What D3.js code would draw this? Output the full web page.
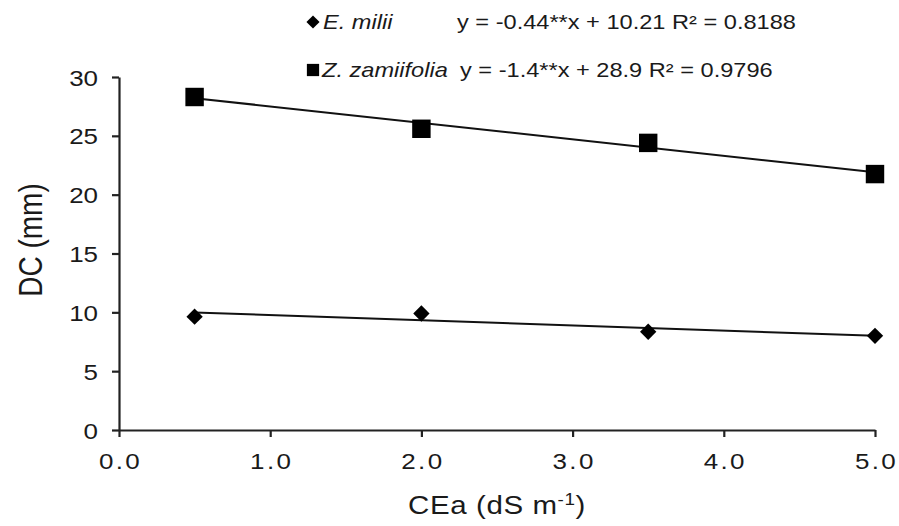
<!DOCTYPE html>
<html>
<head>
<meta charset="utf-8">
<script src="https://cdn.jsdelivr.net/npm/d3@7"></script>
<style>
  body { margin: 0; background: #fff; }
  svg text { font-family: "Liberation Sans", Arial, sans-serif; fill: #1a1a1a; }
</style>
</head>
<body>
<svg id="chart" width="899" height="526"></svg>
<script>
// Salinity levels (CEa, dS m-1)
const cea = [0.5, 2.0, 3.5, 5.0];
// Stem diameter DC (mm) per species
const eMilii = [9.63, 9.9, 8.35, 8.0];
const zZamiifolia = [28.3, 25.6, 24.4, 21.75];
// Linear fits: [slope, intercept]
const fitE = [-0.44, 10.21];
const fitZ = [-1.4, 28.9];
const xTicks = [0, 1, 2, 3, 4, 5];
const yTicks = [0, 5, 10, 15, 20, 25, 30];
const legendNames = ["E. milii", "Z. zamiifolia"];
const legendEqs = ["y = -0.44**x + 10.21 R² = 0.8188", "y = -1.4**x + 28.9 R² = 0.9796"];

const SX = 1.18; // horizontal widening of the lettering
const svg = d3.select("#chart");
const x = d3.scaleLinear().domain([0, 5]).range([119, 875]);
const y = d3.scaleLinear().domain([0, 30]).range([430, 77]);

// Places a horizontally widened text at (px, py)
function label(px, py, size, str, opts = {}) {
  const g = svg.append("g").attr("transform", `translate(${px},${py}) scale(${SX},1)`);
  const t = g.append("text").attr("font-size", size)
    .attr("text-anchor", opts.anchor || "start")
    .attr("font-style", opts.italic ? "italic" : null);
  if (opts.html) t.html(str); else t.text(str);
  return t;
}

// Axes
const xAxis = svg.append("g").attr("transform", `translate(0,${y(0)})`)
  .call(d3.axisBottom(x).tickValues(xTicks).tickFormat(d3.format(".1f")).tickSize(7).tickSizeOuter(0));
const yAxis = svg.append("g").attr("transform", `translate(${x(0)},0)`)
  .call(d3.axisLeft(y).tickValues(yTicks).tickSize(7).tickSizeOuter(0));
[xAxis, yAxis].forEach(g => {
  g.selectAll("path, line").attr("stroke", "#222").attr("stroke-width", 2.2);
  g.selectAll("text").attr("font-size", 22).attr("fill", "#1a1a1a");
});
xAxis.selectAll("text").attr("y", 0).attr("dy", 0)
  .attr("transform", `translate(1,39) scale(${SX},1)`).attr("letter-spacing", "2px");
yAxis.selectAll("text").attr("x", 0).attr("dy", 0)
  .attr("transform", `translate(-21,8) scale(${SX},1)`);

// Axis titles
label(497, 514, 25, 'CEa (dS m<tspan baseline-shift="super" font-size="16">-1</tspan>)',
  { anchor: "middle", html: true }).attr("letter-spacing", "0.5px");
svg.append("text").attr("transform", `translate(42,240) rotate(-90) scale(1,${SX})`)
  .attr("text-anchor", "middle").attr("font-size", 28).text("DC (mm)");

// Trend lines over the measured range
[fitE, fitZ].forEach(f => {
  const [a, b] = [cea[0], cea[cea.length - 1]];
  svg.append("line")
    .attr("x1", x(a)).attr("y1", y(f[0] * a + f[1]))
    .attr("x2", x(b)).attr("y2", y(f[0] * b + f[1]))
    .attr("stroke", "#111").attr("stroke-width", 2);
});

// Markers
const diamond = d3.symbol().type(d3.symbolDiamond2).size(170);
const square = d3.symbol().type(d3.symbolSquare).size(340);
svg.append("g").selectAll("path").data(cea).join("path")
  .attr("d", diamond).attr("fill", "#000")
  .attr("transform", (d, i) => `translate(${x(d)},${y(eMilii[i])})`);
svg.append("g").selectAll("path").data(cea).join("path")
  .attr("d", square).attr("fill", "#000")
  .attr("transform", (d, i) => `translate(${x(d)},${y(zZamiifolia[i])})`);

// Legend
svg.append("path").attr("d", d3.symbol().type(d3.symbolDiamond2).size(110)).attr("fill", "#000")
  .attr("transform", "translate(313,22)");
svg.append("path").attr("d", d3.symbol().type(d3.symbolSquare).size(150)).attr("fill", "#000")
  .attr("transform", "translate(313,70)");
label(323, 29, 20, legendNames[0], { italic: true });
label(322, 77, 20, legendNames[1], { italic: true });
label(457, 29, 20, legendEqs[0]);
label(460, 77, 20, legendEqs[1]);
</script>
</body>
</html>
